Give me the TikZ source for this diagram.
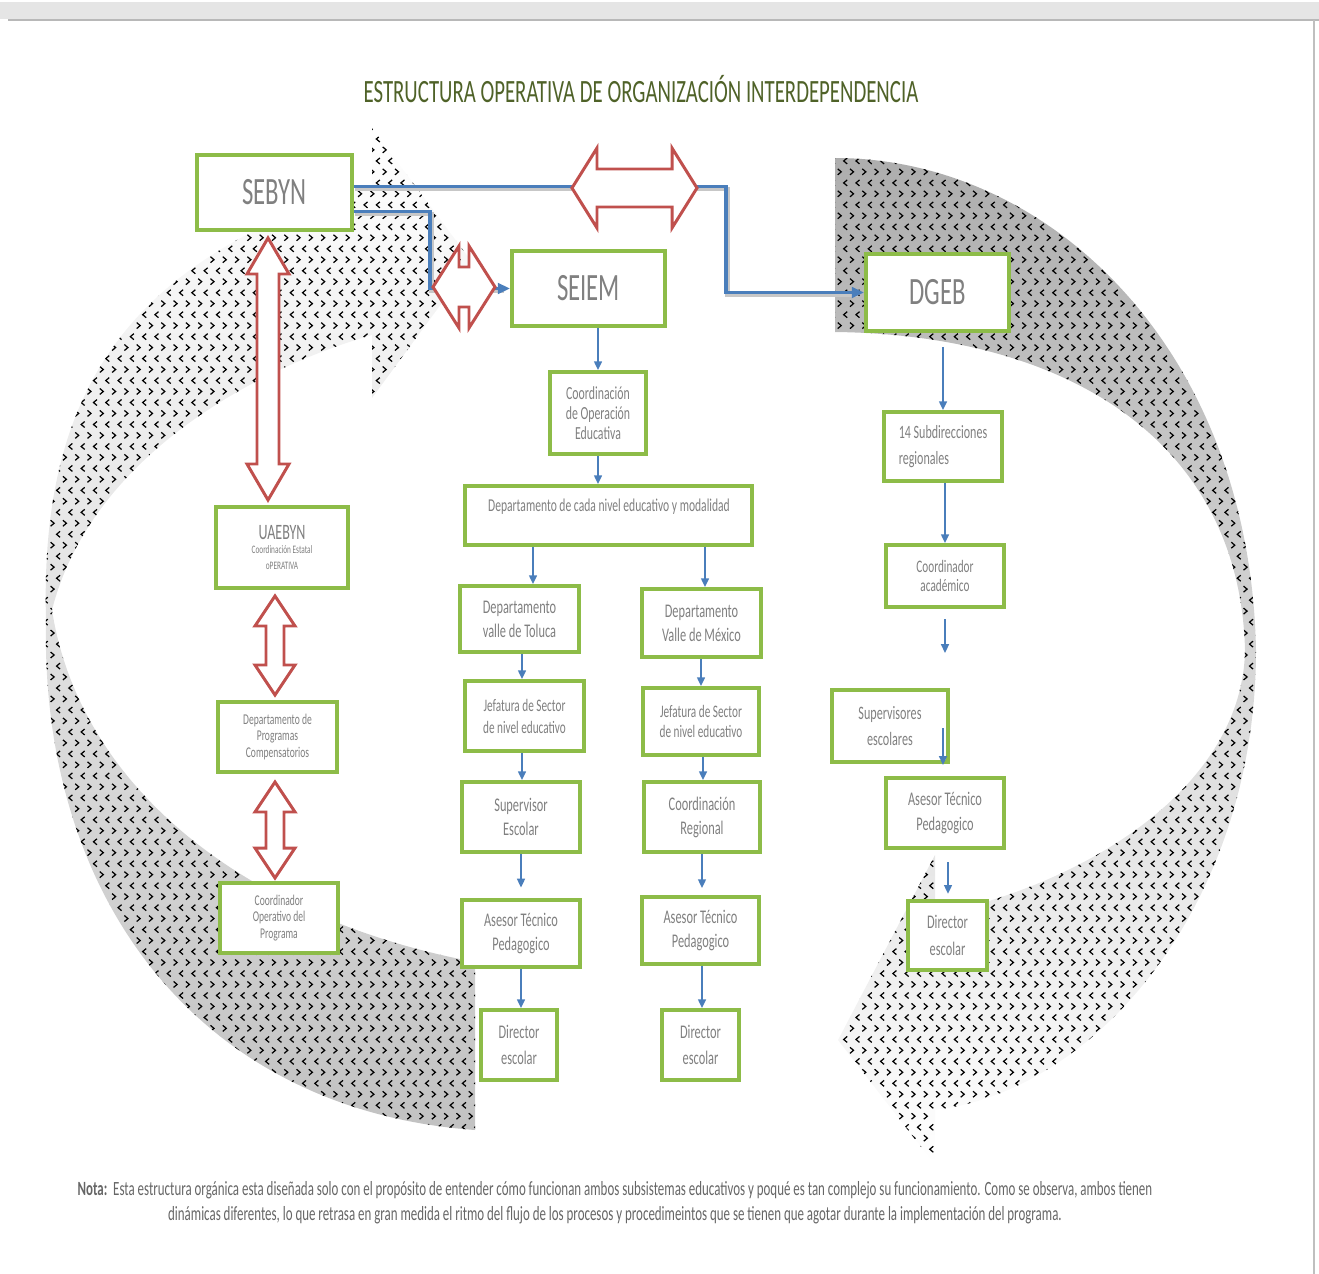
\documentclass[tikz,border=0pt]{standalone}
\usepackage{fontspec}
\setmainfont{Carlito}
\newfontfamily\cf{Carlito}[FakeStretch=0.64]
\usetikzlibrary{arrows.meta,patterns,calc}
\definecolor{bgreen}{HTML}{8DBC48}
\definecolor{bblue}{HTML}{4A7EBB}
\definecolor{rred}{HTML}{C0504D}
\definecolor{tgray}{HTML}{808080}
\definecolor{ttitle}{HTML}{4F6228}
\definecolor{ngray}{HTML}{666666}
\pgfdeclarepatternformonly{chev}{\pgfqpoint{-0.5pt}{-0.5pt}}{\pgfqpoint{7.5pt}{13pt}}{\pgfqpoint{7pt}{12.5pt}}{%
  \pgfsetlinewidth{0.7pt}%
  \pgfpathmoveto{\pgfqpoint{0.8pt}{0.6pt}}\pgfpathlineto{\pgfqpoint{2.8pt}{2.3pt}}\pgfpathlineto{\pgfqpoint{0.8pt}{4pt}}%
  \pgfpathmoveto{\pgfqpoint{6.2pt}{6.8pt}}\pgfpathlineto{\pgfqpoint{4.2pt}{8.5pt}}\pgfpathlineto{\pgfqpoint{6.2pt}{10.2pt}}%
  \pgfusepath{stroke}}
\newcommand\obox[7][]{%
  \node[obox,#1,minimum width={(#5-#3)*0.02cm},minimum height={(#6-#4)*0.02cm}] (#2) at ({(#3+#5)/2},{(#4+#6)/2}) {#7};}
\newcommand\hdarr[6]{%
  \draw[rarr] (#1,#3) -- ({#1+#6},{#3-#4}) -- ({#1+#6},{#3-#5}) -- ({#2-#6},{#3-#5}) -- ({#2-#6},{#3-#4}) -- (#2,#3) -- ({#2-#6},{#3+#4}) -- ({#2-#6},{#3+#5}) -- ({#1+#6},{#3+#5}) -- ({#1+#6},{#3+#4}) -- cycle;}
\newcommand\vdarr[6]{%
  \draw[rarr] (#1,#2) -- ({#1+#4},{#2+#6}) -- ({#1+#5},{#2+#6}) -- ({#1+#5},{#3-#6}) -- ({#1+#4},{#3-#6}) -- (#1,#3) -- ({#1-#4},{#3-#6}) -- ({#1-#5},{#3-#6}) -- ({#1-#5},{#2+#6}) -- ({#1-#4},{#2+#6}) -- cycle;}
\def\leftshape{(372,128) -- (472,262) -- (372,398) -- (372,335) .. controls (250,370) and (90,460) .. (52,610) .. controls (80,790) and (250,920) .. (475,962) -- (475,1130) .. controls (200,1110) and (40,900) .. (46,620) .. controls (40,400) and (120,260) .. (372,185) -- cycle}
\def\rightshape{(835,158) .. controls (1050,158) and (1250,350) .. (1256,650) .. controls (1256,900) and (1100,1090) .. (935,1110) -- (935,1165) -- (838,1040) -- (935,855) -- (935,915) .. controls (1100,880) and (1243,780) .. (1245,650) .. controls (1240,450) and (1080,335) .. (835,332) -- cycle}
\begin{document}
\begin{tikzpicture}[x=0.02cm,y=-0.02cm,
  obox/.style={draw=bgreen,line width=2.2pt,fill=white,text=tgray,align=center,inner sep=1pt,font=\cf\fontsize{11}{13.6}\selectfont},
  big/.style={font=\cf\fontsize{22}{26}\selectfont},
  bline/.style={draw=bblue,line width=1pt,-{Triangle[length=5pt,width=4.5pt]}},
  tline/.style={draw=bblue,line width=2.2pt,-{Triangle[length=7pt,width=6pt]}},
  tshadow/.style={draw=black!22,line width=2.4pt,transform canvas={shift={(1.5,2.5)}}},
  rarr/.style={draw=rred,line width=1.7pt,fill=white,line join=miter}]
\useasboundingbox (0,0) rectangle (1319,1274);
% frame
\fill[black!10] (0,2) rectangle (1319,19);
\draw[black!28,line width=1.6pt] (8,20) -- (1319,20);
\draw[black!25,line width=0.8pt] (1314,20) -- (1314,1274);
% background curved arrows
\shade[top color=white,bottom color=black!24] \leftshape;
\fill[pattern=chev,pattern color=black] \leftshape;
\shade[top color=black!32,bottom color=white] \rightshape;
\fill[pattern=chev,pattern color=black] \rightshape;
% title
\node[font=\cf\fontsize{18.5}{22}\selectfont,text=ttitle] (title) at (641,89) {ESTRUCTURA OPERATIVA DE ORGANIZACIÓN INTERDEPENDENCIA};
% boxes
\obox[big]{sebyn}{197}{155}{352}{230}{SEBYN}
\obox[big]{seiem}{512}{251}{665}{326}{SEIEM}
\obox[big]{dgeb}{866}{254}{1009}{331}{DGEB}
% thick connectors
\draw[tshadow] ($(sebyn.east)+(0,-6)$) -| ($(dgeb.west)+(-138,0)$) -- ($(dgeb.west)+(-8,0)$);
\draw[tshadow] ($(sebyn.east)+(0,19)$) -| ($(seiem.west)+(-80,0)$) -- ($(seiem.west)+(-8,0)$);
\draw[tline] ($(sebyn.east)+(0,-6)$) -| ($(dgeb.west)+(-138,0)$) -- (dgeb.west);
\draw[tline] ($(sebyn.east)+(0,19)$) -| ($(seiem.west)+(-80,0)$) -- (seiem.west);
% red double arrows
\hdarr{572}{697}{188}{40}{19}{25}
\hdarr{433}{495}{287}{41}{20}{26}
\vdarr{268}{238}{500}{21}{11}{36}
\vdarr{275}{596}{695}{20}{9}{30}
\vdarr{275}{782}{878}{20}{9}{30}
% SEIEM column
\obox[font=\cf\fontsize{10.5}{11.5}\selectfont]{coe}{550}{372}{646}{454}{Coordinación\\de Operación\\Educativa}
\obox{dcn}{465}{486}{752}{545}{}
\node[font=\cf\fontsize{10.3}{12}\selectfont,text=tgray] (dcnt) at (609,507) {Departamento de cada nivel educativo y modalidad};
\obox{tol}{460}{586}{579}{652}{Departamento\\valle de Toluca}
\obox{mex}{642}{589}{761}{657}{Departamento\\Valle de México}
\obox[font=\cf\fontsize{10}{12.5}\selectfont]{jefL}{465}{681}{584}{751}{Jefatura de Sector\\de nivel educativo}
\obox[font=\cf\fontsize{10}{11}\selectfont]{jefR}{643}{688}{759}{755}{Jefatura de Sector\\de nivel educativo}
\obox{sup}{462}{782}{580}{852}{Supervisor\\Escolar}
\obox{creg}{644}{782}{760}{852}{Coordinación\\Regional}
\obox{aseL}{462}{900}{580}{967}{Asesor Técnico\\Pedagogico}
\obox{aseR}{642}{897}{759}{964}{Asesor Técnico\\Pedagogico}
\obox[font=\cf\fontsize{11}{14.7}\selectfont]{dirL}{481}{1010}{557}{1080}{Director\\escolar}
\obox[font=\cf\fontsize{11}{14.7}\selectfont]{dirR}{662}{1010}{739}{1080}{Director\\escolar}
% SEBYN column
\obox[font=\cf\fontsize{6.5}{9}\selectfont]{uae}{216}{507}{348}{588}{\fontsize{12.5}{13}\selectfont UAEBYN\\[-1pt]\fontsize{6.5}{9}\selectfont Coordinación Estatal\\oPERATIVA}
\obox[font=\cf\fontsize{8.5}{9.4}\selectfont]{dprog}{218}{702}{337}{772}{Departamento de\\Programas\\Compensatorios}
\obox[font=\cf\fontsize{8.5}{9.2}\selectfont]{coop}{220}{883}{338}{953}{Coordinador\\Operativo del\\Programa}
% DGEB column
\obox[align=left,font=\cf\fontsize{10.7}{14.7}\selectfont]{sub14}{884}{412}{1002}{481}{14 Subdirecciones\\regionales}
\obox[font=\cf\fontsize{10}{10.8}\selectfont]{cacad}{886}{545}{1004}{607}{Coordinador\\académico}
\obox[font=\cf\fontsize{10.8}{14.7}\selectfont]{supesc}{832}{690}{948}{762}{Supervisores\\escolares}
\obox[font=\cf\fontsize{11}{14}\selectfont]{aseD}{886}{778}{1004}{848}{Asesor Técnico\\Pedagogico}
\obox[font=\cf\fontsize{11}{15}\selectfont]{dirD}{908}{901}{987}{970}{Director\\escolar}
% thin connectors
\draw[bline] (coe.north |- seiem.south) -- (coe.north);
\draw[bline] (coe.south) -- (coe.south |- dcn.north);
\draw[bline] (dcn.south -| 533,0) -- (tol.north -| 533,0);
\draw[bline] (dcn.south -| 705,0) -- (mex.north -| 705,0);
\draw[bline] (tol.south -| 522,0) -- (jefL.north -| 522,0);
\draw[bline] (mex.south -| 701,0) -- (jefR.north -| 701,0);
\draw[bline] (jefL.south -| 522,0) -- (sup.north -| 522,0);
\draw[bline] (jefR.south -| 703,0) -- (creg.north -| 703,0);
\draw[bline,shorten >=6pt] (sup.south -| 521,0) -- (aseL.north -| 521,0);
\draw[bline,shorten >=4pt] (creg.south -| 702,0) -- (aseR.north -| 702,0);
\draw[bline] (aseL.south -| 521,0) -- (dirL.north -| 521,0);
\draw[bline] (aseR.south -| 702,0) -- (dirR.north -| 702,0);
\draw[bline,shorten <=8pt] (dgeb.south -| 943,0) -- (sub14.north -| 943,0);
\draw[bline] (sub14.south -| 945,0) -- (cacad.north -| 945,0);
\coordinate (cacadend) at (945,653);
\draw[bline,shorten <=6pt] (cacad.south -| 945,0) -- (cacadend);
\coordinate (supa) at (943,728);
\coordinate (supb) at (943,765);
\draw[bline] (supa) -- (supb);
\draw[bline,shorten <=7pt,shorten >=3pt] (aseD.south -| 948,0) -- (dirD.north -| 948,0);
% note
\node[font=\cf\fontsize{11.5}{14.2}\selectfont,text=ngray,align=center] (nota) at (615,1203) {\textbf{Nota:}\ \ Esta estructura orgánica esta diseñada solo con el propósito de entender cómo funcionan ambos subsistemas educativos y poqué es tan complejo su funcionamiento. Como se observa, ambos tienen\\dinámicas diferentes, lo que retrasa en gran medida el ritmo del flujo de los procesos y procedimeintos que se tienen que agotar durante la implementación del programa.};
\end{tikzpicture}
\end{document}
